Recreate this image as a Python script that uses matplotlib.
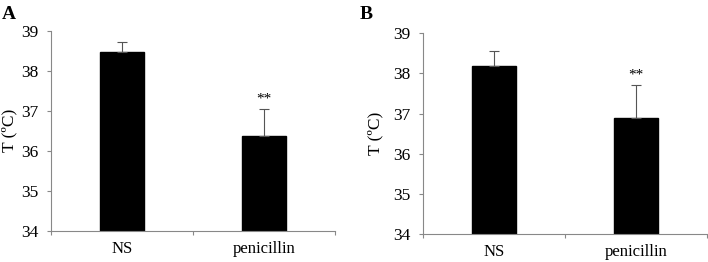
import numpy as np
import matplotlib.pyplot as plt

plt.rcParams['font.family'] = ['Liberation Serif', 'DejaVu Serif']

groups = ['NS', 'penicillin']
temp_a = [38.48, 36.38]
err_a = [0.25, 0.66]
temp_b = [38.19, 36.88]
err_b = [0.38, 0.82]
panels = ['A', 'B']

fig = plt.figure(figsize=(7.08, 2.62), dpi=100)
ax_a = fig.add_axes([0.072, 0.119, 0.401, 0.763])
ax_b = fig.add_axes([0.598, 0.107, 0.400, 0.766])

x = np.array([0.5, 1.5])
for ax, vals, errs, lab, lx, ylx in [(ax_a, temp_a, err_a, 'A', 0.002, -0.118),
                                      (ax_b, temp_b, err_b, 'B', 0.508, -0.141)]:
    ax.bar(x, vals, width=0.31, color='black', edgecolor='black',
           yerr=[[0, 0], errs], error_kw=dict(ecolor='#555555', elinewidth=0.8,
                                              capsize=3.5, capthick=0.8))
    ax.set_xlim(0, 2)
    ax.set_ylim(34, 39)
    ax.set_yticks(range(34, 40))
    ax.set_xticks([0, 1, 2])
    ax.set_xticklabels([])
    ax.set_xticks(x, minor=True)
    ax.set_xticklabels(groups, minor=True)
    ax.tick_params(axis='x', which='minor', length=0, labelsize=12, pad=7)
    ax.tick_params(axis='x', which='major', length=3, color='#888888', direction='out')
    ax.tick_params(axis='y', length=3, color='#888888', labelsize=12.5, pad=6)
    for s in ['top', 'right']:
        ax.spines[s].set_visible(False)
    for s in ['left', 'bottom']:
        ax.spines[s].set_color('#888888')
        ax.spines[s].set_linewidth(0.8)
    ax.set_ylabel('T (ºC)', fontsize=12.5)
    ax.yaxis.set_label_coords(ylx, 0.5)
    ax.text(x[1], vals[1] + errs[1] + 0.1, '**', ha='center', va='bottom', fontsize=11)
    fig.text(lx, 0.945, lab, fontsize=14, fontweight='bold', va='center')

fig.savefig('out.png', dpi=100)
